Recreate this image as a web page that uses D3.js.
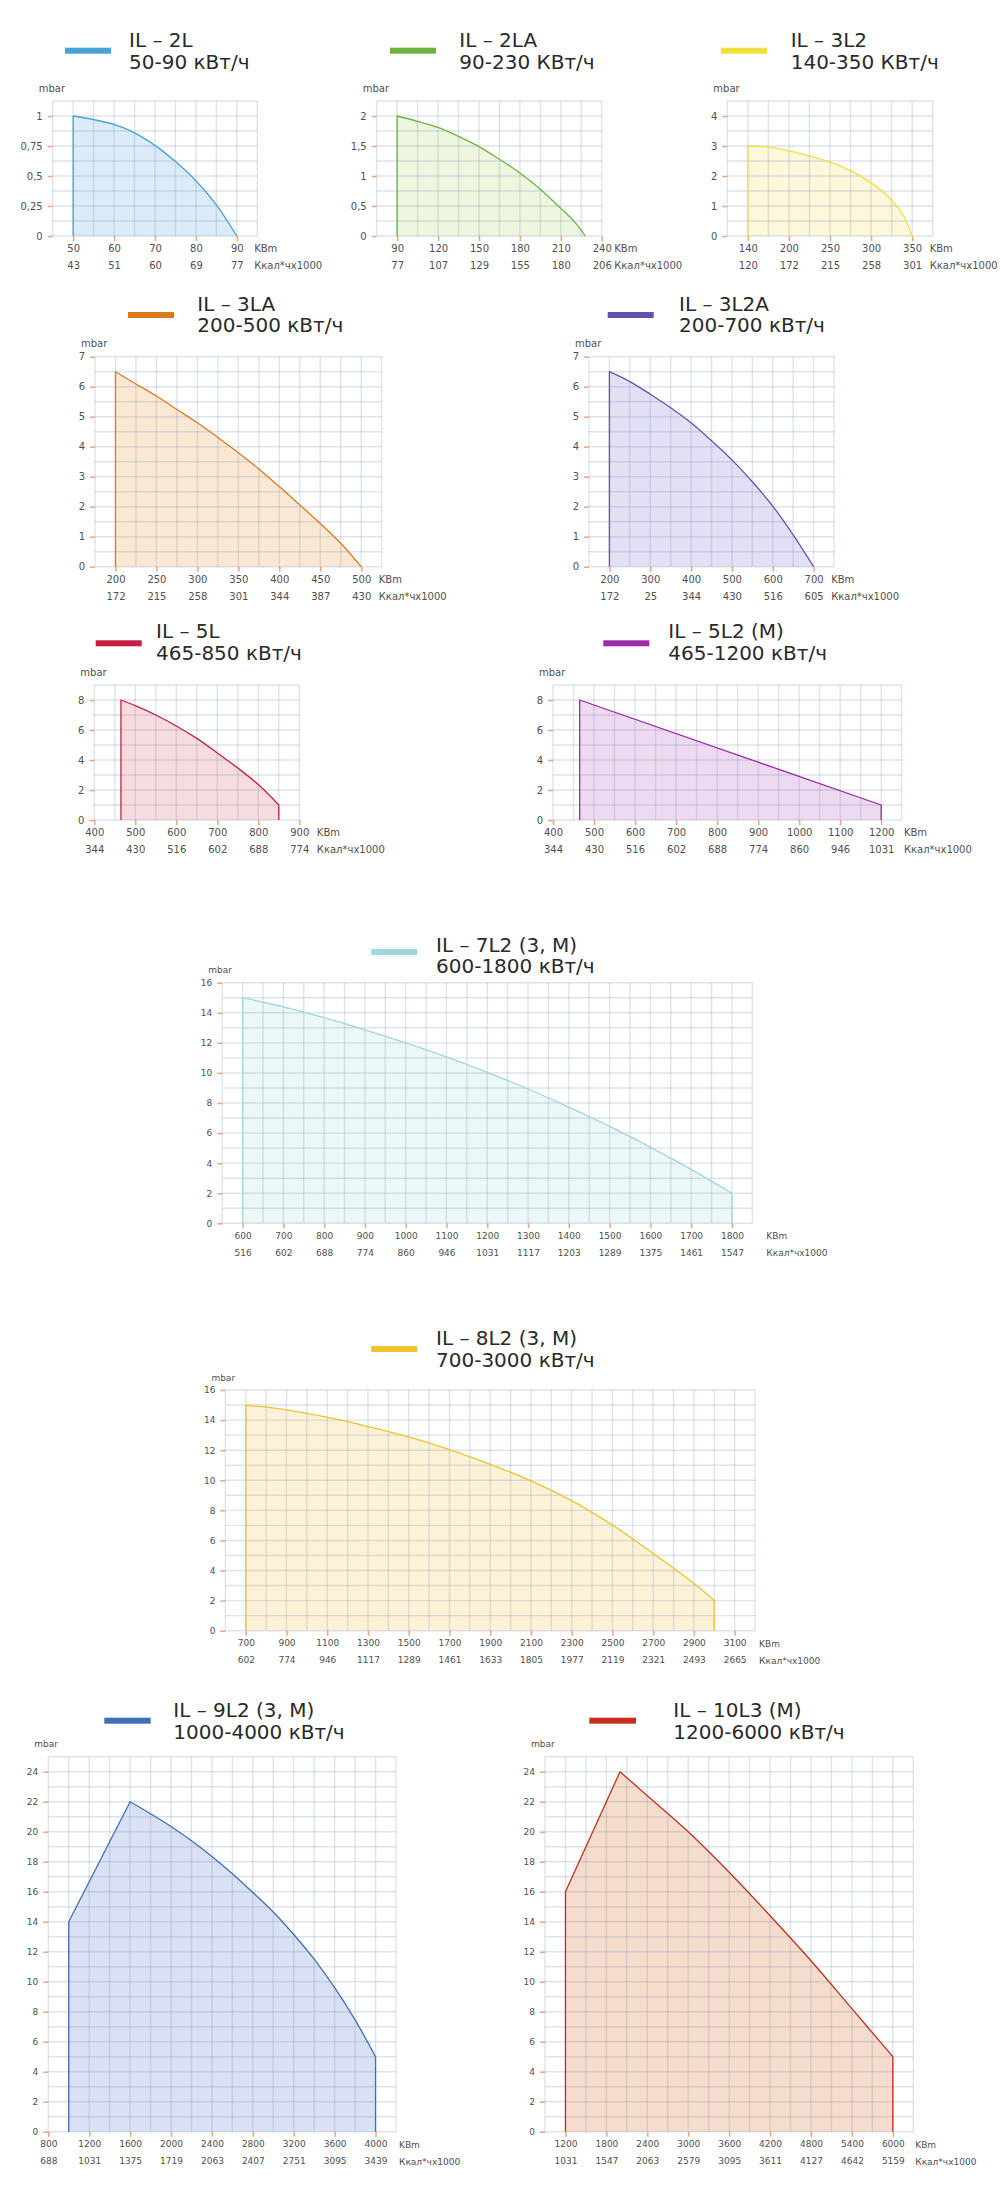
<!DOCTYPE html>
<html>
<head>
<meta charset="utf-8">
<script src="https://cdn.jsdelivr.net/npm/d3@7"></script>
<style>
  body { margin: 0; background: #fff; }
  svg { display: block; }
</style>
</head>
<body>
<div id="chart"></div>
<script>
// burner working fields: pressure (mbar) vs power (kW)
const models = ['IL – 2L', 'IL – 2LA', 'IL – 3L2', 'IL – 3LA', 'IL – 3L2A', 'IL – 5L', 'IL – 5L2 (M)',
    'IL – 7L2 (3, M)', 'IL – 8L2 (3, M)', 'IL – 9L2 (3, M)', 'IL – 10L3 (M)'];
const powerRanges = ['50-90 кВт/ч', '90-230 КВт/ч', '140-350 КВт/ч', '200-500 кВт/ч', '200-700 кВт/ч', '465-850 кВт/ч',
    '465-1200 кВт/ч', '600-1800 кВт/ч', '700-3000 кВт/ч', '1000-4000 кВт/ч', '1200-6000 кВт/ч'];
const lineColors = ['#45a3d8', '#6db33f', '#f1e03c', '#dd7a1e', '#6750b3', '#c61f41', '#9d2aa6', '#9fd8de', '#efc42a', '#3e70b7', '#c3301c'];
const fillColors = ['#dcebf8', '#eef6e0', '#fdf7dc', '#fbe8d4', '#e3e0f5', '#f7dcdf', '#eddaf1', '#ecf7f8', '#fdf2d8', '#dbe1f4', '#f6dccd'];

const kwTicks = [
    [50, 60, 70, 80, 90],
    [90, 120, 150, 180, 210, 240],
    [140, 200, 250, 300, 350],
    [200, 250, 300, 350, 400, 450, 500],
    [200, 300, 400, 500, 600, 700],
    [400, 500, 600, 700, 800, 900],
    [400, 500, 600, 700, 800, 900, 1000, 1100, 1200],
    [600, 700, 800, 900, 1000, 1100, 1200, 1300, 1400, 1500, 1600, 1700, 1800],
    [700, 900, 1100, 1300, 1500, 1700, 1900, 2100, 2300, 2500, 2700, 2900, 3100],
    [800, 1200, 1600, 2000, 2400, 2800, 3200, 3600, 4000],
    [1200, 1800, 2400, 3000, 3600, 4200, 4800, 5400, 6000]
];
const kcalTicks = [
    [43, 51, 60, 69, 77],
    [77, 107, 129, 155, 180, 206],
    [120, 172, 215, 258, 301],
    [172, 215, 258, 301, 344, 387, 430],
    [172, 25, 344, 430, 516, 605],
    [344, 430, 516, 602, 688, 774],
    [344, 430, 516, 602, 688, 774, 860, 946, 1031],
    [516, 602, 688, 774, 860, 946, 1031, 1117, 1203, 1289, 1375, 1461, 1547],
    [602, 774, 946, 1117, 1289, 1461, 1633, 1805, 1977, 2119, 2321, 2493, 2665],
    [688, 1031, 1375, 1719, 2063, 2407, 2751, 3095, 3439],
    [1031, 1547, 2063, 2579, 3095, 3611, 4127, 4642, 5159]
];
const pressureTicks = [
    [0, 0.25, 0.5, 0.75, 1],
    [0, 0.5, 1, 1.5, 2],
    [0, 1, 2, 3, 4],
    [0, 1, 2, 3, 4, 5, 6, 7],
    [0, 1, 2, 3, 4, 5, 6, 7],
    [0, 2, 4, 6, 8],
    [0, 2, 4, 6, 8],
    [0, 2, 4, 6, 8, 10, 12, 14, 16],
    [0, 2, 4, 6, 8, 10, 12, 14, 16],
    [0, 2, 4, 6, 8, 10, 12, 14, 16, 18, 20, 22, 24],
    [0, 2, 4, 6, 8, 10, 12, 14, 16, 18, 20, 22, 24]
];
// [kW, mbar] points
const curves = [
    [[50, 1], [55, 0.97], [60, 0.93], [65, 0.86], [70, 0.755], [75, 0.62], [80, 0.46], [85, 0.26], [90, 0]],
    [[90, 2], [105, 1.91], [120, 1.81], [135, 1.66], [150, 1.49], [165, 1.28], [180, 1.05], [195, 0.78], [210, 0.46], [220, 0.24], [228, 0]],
    [[140, 3], [170, 2.96], [200, 2.84], [225, 2.67], [250, 2.46], [275, 2.18], [300, 1.78], [325, 1.2], [340, 0.66], [350, 0]],
    [[200, 6.5], [225, 6.09], [250, 5.69], [275, 5.24], [300, 4.8], [325, 4.31], [350, 3.8], [375, 3.26], [400, 2.67], [425, 2.06], [450, 1.44], [475, 0.78], [500, 0]],
    [[200, 6.5], [250, 6.17], [300, 5.75], [350, 5.3], [400, 4.8], [450, 4.2], [500, 3.56], [550, 2.83], [600, 2.02], [650, 1.06], [700, 0]],
    [[465, 8], [500, 7.62], [550, 7.0], [600, 6.27], [650, 5.44], [700, 4.47], [750, 3.46], [800, 2.36], [850, 1]],
    [[465, 8], [1200, 1]],
    [[600, 15], [700, 14.39], [800, 13.67], [900, 12.87], [1000, 12], [1100, 11.06], [1200, 10.04], [1300, 8.93], [1400, 7.73], [1500, 6.45], [1600, 5.07], [1700, 3.59], [1800, 2]],
    [[700, 15], [900, 14.68], [1100, 14.19], [1300, 13.57], [1500, 12.88], [1700, 12.04], [1900, 11.06], [2100, 9.96], [2300, 8.65], [2500, 7.03], [2700, 5.14], [2900, 3.15], [3000, 2]],
    [[1000, 14], [1600, 22], [1800, 21.2], [2000, 20.35], [2200, 19.4], [2400, 18.35], [2600, 17.2], [2800, 15.95], [3000, 14.65], [3200, 13.15], [3400, 11.5], [3600, 9.6], [3800, 7.45], [4000, 5]],
    [[1200, 16], [2000, 24], [2400, 22.4], [3000, 20.0], [3600, 17.3], [4200, 14.4], [4800, 11.4], [5400, 8.2], [6000, 5]]
];

// where each panel sits on the page (pads are in tick steps, unitGap is the space before "KBm")
const layout = [
    {left: 52.7, top: 101, right: 257.3, bottom: 236, padL: .5, padR: .5, padT: .5, barX: 65, barW: 46, barY: 50.7, textX: 129, textY: 47, unitGap: 11},
    {left: 376.7, top: 101, right: 601.7, bottom: 236, padL: .5, padR: 0, padT: .5, barX: 390, barW: 46, barY: 50.7, textX: 459.3, textY: 47, unitGap: 3},
    {left: 727.3, top: 101, right: 932.7, bottom: 236, padL: .5, padR: .5, padT: .5, barX: 721, barW: 46, barY: 50.7, textX: 790.7, textY: 47, unitGap: 8},
    {left: 95, top: 356.7, right: 381.7, bottom: 566.7, padL: .5, padR: .5, padT: 0, barX: 128, barW: 46, barY: 315, textX: 197.3, textY: 310.7, unitGap: 8},
    {left: 589, top: 356.7, right: 834, bottom: 566.7, padL: .5, padR: .5, padT: 0, barX: 607.7, barW: 46, barY: 315, textX: 679, textY: 310.7, unitGap: 8},
    {left: 94.3, top: 685, right: 299.3, bottom: 820, padL: 0, padR: 0, padT: .5, barX: 95.7, barW: 46, barY: 643.3, textX: 156, textY: 638, unitGap: 8},
    {left: 553, top: 685, right: 901.7, bottom: 820, padL: 0, padR: .5, padT: .5, barX: 603.3, barW: 46, barY: 643.3, textX: 668.3, textY: 638, unitGap: 10},
    {left: 222.2, top: 982.7, right: 752.3, bottom: 1223.3, padL: .5, padR: .5, padT: 0, barX: 371.2, barW: 46, barY: 952, textX: 436, textY: 951.5, unitGap: 23, small: true},
    {left: 225.4, top: 1390, right: 755, bottom: 1630.7, padL: .5, padR: .5, padT: 0, barX: 371.2, barW: 46, barY: 1349, textX: 436, textY: 1345, unitGap: 13, small: true},
    {left: 48.3, top: 1756.7, right: 396, bottom: 2131.7, padL: 0, padR: .5, padT: .5, barX: 104.3, barW: 46.4, barY: 1720.7, textX: 173.3, textY: 1717.3, unitGap: 12, small: true},
    {left: 545, top: 1756.7, right: 913.3, bottom: 2131.7, padL: .5, padR: .5, padT: .5, barX: 589.3, barW: 46.7, barY: 1720.7, textX: 673.3, textY: 1717.3, unitGap: 11, small: true}
];

const font = '"DejaVu Sans", sans-serif';
const tickColor = '#f3a37c';
const gridColor = 'rgba(105,130,165,0.22)';
const labelColor = '#505050';
const plain = d => String(d).replace('.', ',');

let svg = d3.select('#chart').append('svg')
    .attr('width', 1000)
    .attr('height', 2198);

models.forEach((m, i) => drawChart(i));

function drawChart(i) {
    const L = layout[i];
    const ticks = kwTicks[i];
    const steps = ticks.length - 1 + L.padL + L.padR;
    const stepPx = (L.right - L.left) / steps;
    // ticks are evenly spaced even when the labels are not (3L2 starts at 140)
    const x = d3.scaleLinear()
        .domain(ticks)
        .range(ticks.map((d, k) => L.left + (L.padL + k) * stepPx));
    const yT = pressureTicks[i];
    const yStep = yT[1] - yT[0];
    const yMax = yT[yT.length - 1] + L.padT * yStep;
    const y = d3.scaleLinear().domain([0, yMax]).range([L.bottom, L.top]);

    const labelSize = L.small ? 9 : 10;

    const g = svg.append('g');

    // outline: vertical edge up, straight rise to the peak, smooth fall, vertical edge down
    const pts = curves[i];
    const peak = d3.maxIndex(pts, d => d[1]);
    const rise = pts.slice(0, peak + 1);
    const fall = pts.slice(peak);
    const smooth = d3.line().x(d => x(d[0])).y(d => y(d[1])).curve(d3.curveCatmullRom.alpha(0.5));
    const first = pts[0];
    const last = pts[pts.length - 1];
    const outline = `M${x(first[0])},${y(0)}`
        + rise.map(d => `L${x(d[0])},${y(d[1])}`).join('')
        + smooth(fall).replace(/^M/, 'L')
        + `L${x(last[0])},${y(0)}`;

    g.append('path')
        .attr('d', outline + 'Z')
        .attr('fill', fillColors[i]);

    // grid every half tick step
    const vLines = d3.range(0, Math.round(steps * 2) + 1).map(k => L.left + k * stepPx / 2);
    const hLines = d3.range(0, Math.round(yMax / (yStep / 2)) + 1).map(k => y(k * yStep / 2));

    g.selectAll(null).data(vLines).join('line')
        .attr('x1', d => d).attr('x2', d => d)
        .attr('y1', L.top).attr('y2', L.bottom)
        .attr('stroke', gridColor).attr('stroke-width', 1.4);
    g.selectAll(null).data(hLines).join('line')
        .attr('x1', L.left).attr('x2', L.right)
        .attr('y1', d => d).attr('y2', d => d)
        .attr('stroke', gridColor).attr('stroke-width', 1.4);

    g.append('path')
        .attr('d', outline)
        .attr('fill', 'none')
        .attr('stroke', lineColors[i])
        .attr('stroke-width', 1.3)
        .attr('stroke-linejoin', 'round');

    // axes
    const yAxis = d3.axisLeft(y)
        .tickValues(yT)
        .tickSize(5)
        .tickPadding(5)
        .tickFormat(plain);
    const xAxis = d3.axisBottom(x)
        .tickValues(ticks)
        .tickSize(5)
        .tickPadding(4)
        .tickFormat(plain);
    const kcalAxis = d3.axisBottom(x)
        .tickValues(ticks)
        .tickSize(0)
        .tickPadding(26)
        .tickFormat((d, k) => kcalTicks[i][k]);

    const gy = g.append('g').attr('transform', `translate(${L.left},0)`).call(yAxis);
    const gx = g.append('g').attr('transform', `translate(0,${L.bottom})`).call(xAxis);
    const gk = g.append('g').attr('transform', `translate(0,${L.bottom})`).call(kcalAxis);

    [gy, gx, gk].forEach(a => {
        a.select('.domain').remove();
        a.attr('font-family', font).attr('font-size', labelSize);
        a.selectAll('.tick line').attr('stroke', tickColor).attr('stroke-width', 1.5);
        a.selectAll('.tick text').attr('fill', labelColor);
    });

    // unit labels follow the last tick label
    const lastText = gx.selectAll('.tick text').nodes().pop();
    const unitX = x(ticks[ticks.length - 1]) + lastText.getComputedTextLength() / 2 + L.unitGap;
    g.append('text')
        .attr('x', unitX).attr('y', L.bottom + 16)
        .attr('font-family', font).attr('font-size', labelSize).attr('fill', labelColor)
        .text('KBm');
    g.append('text')
        .attr('x', unitX).attr('y', L.bottom + 33)
        .attr('font-family', font).attr('font-size', labelSize).attr('fill', labelColor)
        .text('Ккал*чх1000');
    g.append('text')
        .attr('x', L.left - 14).attr('y', L.top - 9.5)
        .attr('font-family', font).attr('font-size', labelSize).attr('fill', labelColor)
        .text('mbar');

    // legend bar + title
    g.append('rect')
        .attr('x', L.barX).attr('y', L.barY - 3)
        .attr('width', L.barW).attr('height', 6)
        .attr('fill', lineColors[i]);
    const title = g.append('text')
        .attr('font-family', font)
        .attr('font-size', 20)
        .attr('fill', '#2a2a2a');
    title.append('tspan').attr('x', L.textX).attr('y', L.textY).text(models[i]);
    title.append('tspan').attr('x', L.textX).attr('y', L.textY + 21.5).text(powerRanges[i]);
}
</script>
</body>
</html>
